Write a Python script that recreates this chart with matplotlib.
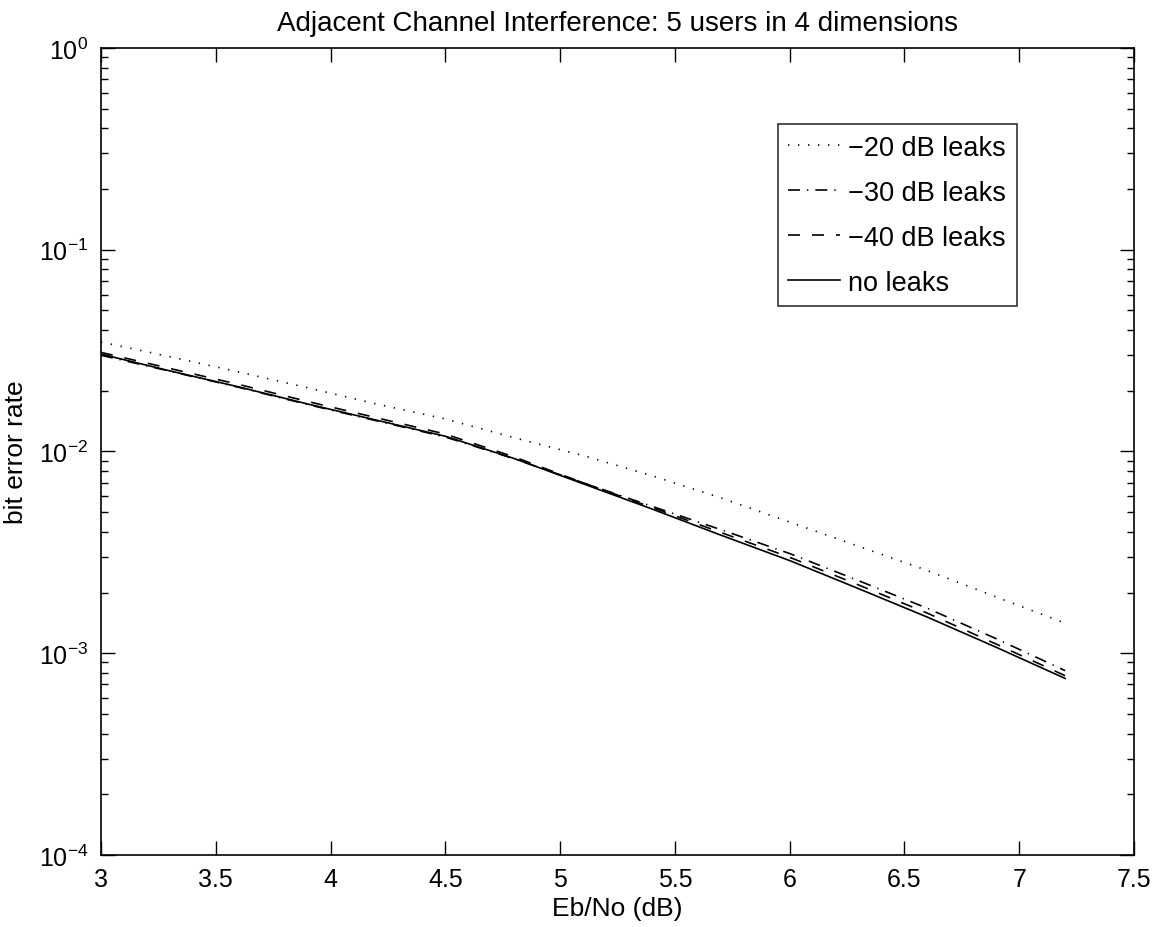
import matplotlib
matplotlib.use("Agg")
import matplotlib.pyplot as plt
from matplotlib.ticker import LogLocator, FixedLocator

# data (Eb/No in dB vs bit error rate)
ebno = [3.0, 3.3, 3.6, 3.9, 4.2, 4.5, 4.8, 5.1, 5.4, 5.7, 6.0, 6.3, 6.6, 6.9, 7.2]
ber_20db = [0.0349, 0.0295, 0.0248, 0.0207, 0.0172, 0.0145, 0.0117, 0.00955,
            0.00759, 0.00589, 0.00447, 0.00339, 0.00257, 0.00190, 0.00141]
ber_30db = [0.0300, 0.0250, 0.0208, 0.0171, 0.0142, 0.0118, 0.0092, 0.0070,
            0.00535, 0.00410, 0.00312, 0.00229, 0.00167, 0.00118, 0.00082]
ber_40db = [0.0310, 0.0258, 0.0215, 0.0177, 0.0147, 0.0122, 0.0094, 0.0070,
            0.00528, 0.00397, 0.00299, 0.00218, 0.00158, 0.00111, 0.000774]
ber_none = [0.0304, 0.0251, 0.0209, 0.0172, 0.0143, 0.0119, 0.00923, 0.00692,
            0.00519, 0.00385, 0.00288, 0.00209, 0.00151, 0.00107, 0.00075]
labels = ["\u221220 dB leaks", "\u221230 dB leaks", "\u221240 dB leaks", "no leaks"]
xticks = [3, 3.5, 4, 4.5, 5, 5.5, 6, 6.5, 7, 7.5]

plt.rcParams['font.family'] = ['Liberation Sans', 'DejaVu Sans']
plt.rcParams['font.size'] = 18
plt.rcParams['mathtext.fontset'] = 'custom'
plt.rcParams['mathtext.rm'] = 'Liberation Sans'

fig = plt.figure(figsize=(11.62, 9.28), dpi=100)
ax = fig.add_axes([0.0869, 0.0776, 0.889, 0.8696])

lw = 1.2
ax.plot(ebno, ber_20db, color='black', lw=lw, linestyle=(0, (0.8, 5.2)), label=labels[0])
ax.plot(ebno, ber_30db, color='black', lw=lw, linestyle=(0, (7.2, 4.2, 0.8, 4.2)), label=labels[1])
ax.plot(ebno, ber_40db, color='black', lw=lw, linestyle=(0, (7.2, 7.2)), label=labels[2])
ax.plot(ebno, ber_none, color='black', lw=lw, linestyle='-', label=labels[3])

ax.set_yscale('log')
ax.set_xlim(3, 7.5)
ax.set_ylim(1e-4, 1e0)
ax.xaxis.set_major_locator(FixedLocator(xticks))
ax.set_xticklabels([f"{t:g}" for t in xticks])
ax.yaxis.set_major_locator(LogLocator(base=10, numticks=10))
ax.yaxis.set_minor_locator(LogLocator(base=10, subs=range(2, 10), numticks=20))

ax.tick_params(which='both', direction='in', top=True, right=True, width=1, colors='black',
               labelsize=18)
ax.tick_params(which='major', length=10, pad=9)
ax.tick_params(which='minor', length=5)
for s in ax.spines.values():
    s.set_linewidth(1.2)

ax.set_xlabel("Eb/No (dB)", fontsize=19, labelpad=3)
ax.set_ylabel("bit error rate", fontsize=19, labelpad=8)
ax.set_title("Adjacent Channel Interference: 5 users in 4 dimensions", fontsize=20, pad=13)

leg = ax.legend(loc='upper left', bbox_to_anchor=(0.655, 0.906), frameon=True,
                fancybox=False, shadow=False, fontsize=19.5, handlelength=1.9,
                handletextpad=0.3, labelspacing=0.7, borderpad=0.4, borderaxespad=0)
leg.get_frame().set_edgecolor('black')
leg.get_frame().set_linewidth(1.2)

fig.savefig("out.png", dpi=100)
